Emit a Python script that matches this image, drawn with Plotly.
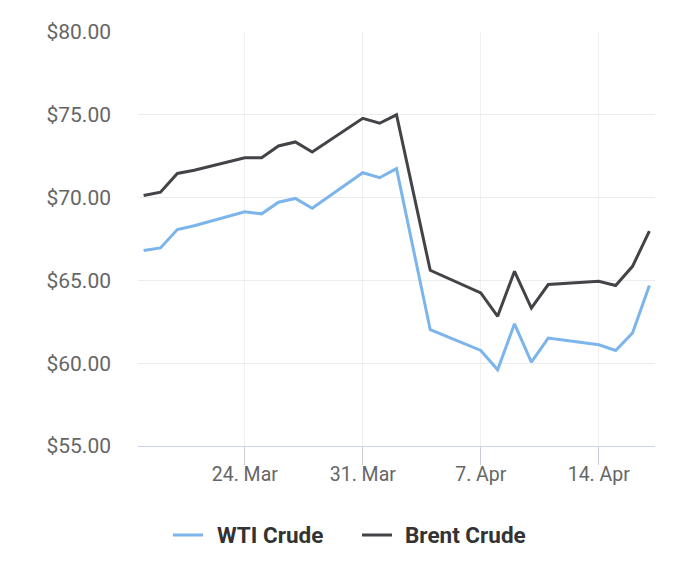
import plotly.graph_objects as go

dates = ["2025-03-18", "2025-03-19", "2025-03-20", "2025-03-21",
         "2025-03-24", "2025-03-25", "2025-03-26", "2025-03-27", "2025-03-28",
         "2025-03-31", "2025-04-01", "2025-04-02",
         "2025-04-04", "2025-04-07", "2025-04-08", "2025-04-09", "2025-04-10", "2025-04-11",
         "2025-04-14", "2025-04-15", "2025-04-16", "2025-04-17"]

wti = [66.80, 66.96, 68.07, 68.30,
       69.14, 69.02, 69.72, 69.95, 69.36,
       71.50, 71.20, 71.75,
       62.02, 60.77, 59.60, 62.38, 60.07, 61.52,
       61.11, 60.77, 61.82, 64.69]

brent = [70.13, 70.33, 71.46, 71.65,
         72.41, 72.41, 73.12, 73.36, 72.75,
         74.79, 74.49, 75.00,
         65.61, 64.24, 62.83, 65.55, 63.33, 64.75,
         64.95, 64.69, 65.85, 67.97]

x_tickvals = ["2025-03-24", "2025-03-31", "2025-04-07", "2025-04-14"]
x_ticktext = ["24. Mar", "31. Mar", "7. Apr", "14. Apr"]

series_names = ["WTI Crude", "Brent Crude"]
series_colors = ["#7cb5ec", "#434348"]

W, H = 700, 568
ML, MR, MT, MB = 138, 45, 32, 122
PW, PH = W - ML - MR, H - MT - MB

fig = go.Figure()
for name, vals, col in zip(series_names, [wti, brent], series_colors):
    fig.add_trace(go.Scatter(x=dates, y=vals, mode="lines", name=name,
                             line=dict(color=col, width=3), showlegend=False))

# Legend drawn manually (position in pixels)
legend_items = [(173, 215), (362, 403)]  # (line start x, text start x)
leg_y = 535
ly = (H - MB - leg_y) / PH
for (lx, tx), name, col in zip(legend_items, series_names, series_colors):
    fig.add_shape(type="line", xref="paper", yref="paper",
                  x0=(lx - ML) / PW, x1=(lx + 30 - ML) / PW, y0=ly, y1=ly,
                  line=dict(color=col, width=3))
    fig.add_annotation(xref="paper", yref="paper",
                       x=(tx - ML) / PW, y=ly,
                       xanchor="left", yanchor="middle", showarrow=False,
                       text="<b>" + name + "</b>",
                       font=dict(family="Roboto", size=22.5, color="#333333"))

fig.update_layout(
    width=W, height=H,
    margin=dict(l=ML, r=MR, t=MT, b=MB, autoexpand=False),
    paper_bgcolor="white", plot_bgcolor="white",
    font=dict(family="Roboto", size=19, color="#666666"),
    showlegend=False,
    xaxis=dict(type="date", range=["2025-03-17 16:00", "2025-04-17 08:00"],
               tickvals=x_tickvals, ticktext=x_ticktext,
               showgrid=True, gridcolor="#f0f0f0", gridwidth=1,
               showline=True, linecolor="#ccd6eb", linewidth=1,
               ticks="outside", ticklen=18, tickcolor="#c8ccd6", tickwidth=1,
               ticklabelstandoff=-7,
               tickfont=dict(size=19.5, color="#666666"), zeroline=False),
    yaxis=dict(range=[55, 80], dtick=5, tick0=55,
               tickprefix="$", tickformat=".2f",
               showgrid=True, gridcolor="#ededed", gridwidth=1,
               showline=False, zeroline=False, ticks="",
               ticklabelstandoff=26,
               tickfont=dict(size=21, color="#666666")),
)

fig.write_html("out.html", config={"displayModeBar": False},
               post_script="document.body.style.margin='0';")
